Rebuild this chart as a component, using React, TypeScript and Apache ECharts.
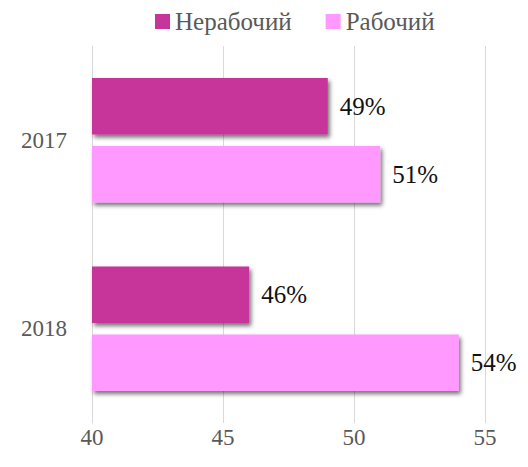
import React, { useEffect, useRef } from "react";
import * as echarts from "echarts";

const categories = ["2017", "2018"];
const seriesNames = ["Нерабочий", "Рабочий"];
const nonWorking = [49, 46];
const working = [51, 54];
const colors = ["#C8359A", "#FF99FF"];

export default function App() {
  const ref = useRef<HTMLDivElement>(null);
  useEffect(() => {
    const chart = echarts.init(ref.current!, null, { renderer: "svg" });
    const font = "Liberation Serif";
    const mkSeries = (name: string, data: number[], color: string) => ({
      name,
      type: "bar",
      data,
      barGap: "20%",
      barCategoryGap: "34%",
      itemStyle: {
        color,
        shadowColor: "rgba(0,0,0,0.55)",
        shadowBlur: 4,
        shadowOffsetX: 2,
        shadowOffsetY: 3,
      },
      label: {
        show: true,
        position: "right",
        distance: 12,
        formatter: "{c}%",
        fontFamily: font,
        fontSize: 25,
        color: "#111",
      },
    });
    chart.setOption({
      animation: false,
      color: colors,
      legend: {
        top: 4,
        left: 150,
        itemWidth: 15,
        itemHeight: 15,
        itemGap: 34,
        icon: "rect",
        textStyle: { fontFamily: font, fontSize: 25, color: "#595959" },
        data: seriesNames,
      },
      grid: { left: 92, right: 43, top: 46, bottom: 44, containLabel: false },
      xAxis: {
        type: "value",
        min: 40,
        max: 55,
        interval: 5,
        axisLine: { show: false },
        axisTick: { show: false },
        splitLine: { show: true, lineStyle: { color: "#d9d9d9", width: 1 } },
        axisLabel: { fontFamily: font, fontSize: 23, color: "#595959", margin: 3 },
      },
      yAxis: {
        type: "category",
        data: categories,
        inverse: true,
        axisLine: { show: true, lineStyle: { color: "#d9d9d9", width: 1 } },
        axisTick: { show: false },
        axisLabel: { fontFamily: font, fontSize: 23, color: "#595959", margin: 25 },
      },
      series: [
        mkSeries(seriesNames[0], nonWorking, colors[0]),
        mkSeries(seriesNames[1], working, colors[1]),
      ],
    });
    return () => chart.dispose();
  }, []);
  return <div ref={ref} style={{ width: 528, height: 467, marginLeft: -8, marginTop: -8 }} />;
}
